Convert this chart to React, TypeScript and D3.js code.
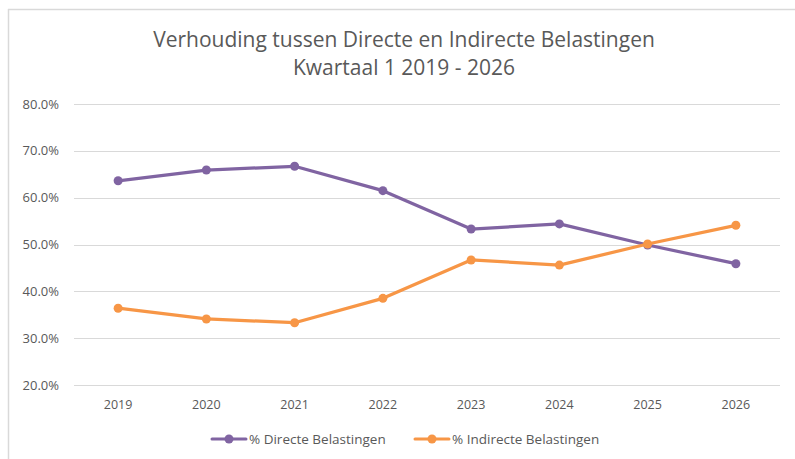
import React, { useEffect, useRef } from 'react';
import * as d3 from 'd3';

const years = ['2019', '2020', '2021', '2022', '2023', '2024', '2025', '2026'];
const directe = [63.6, 65.9, 66.7, 61.5, 53.3, 54.4, 49.9, 45.9];
const indirecte = [36.4, 34.1, 33.3, 38.5, 46.7, 45.6, 50.1, 54.1];
const yTicks = [20, 30, 40, 50, 60, 70, 80];
const seriesNames = ['% Directe Belastingen', '% Indirecte Belastingen'];
const seriesColors = ['#8064a2', '#f79646'];

const W = 795;
const H = 459;
const FONT = "'Open Sans', sans-serif";

const App: React.FC = () => {
  const svgRef = useRef<SVGSVGElement>(null);

  useEffect(() => {
    if (!svgRef.current) return;
    const svg = d3.select(svgRef.current);
    svg.selectAll('*').remove();

    const margin = { top: 104, right: 15, bottom: 74, left: 74 };
    const innerW = W - margin.left - margin.right;
    const innerH = H - margin.top - margin.bottom;

    svg.append('rect').attr('width', W).attr('height', H).attr('fill', '#fff');

    // chart frame (only top and left edges visible)
    svg.append('line')
      .attr('x1', 8).attr('x2', W).attr('y1', 9.5).attr('y2', 9.5)
      .attr('stroke', '#d9d9d9').attr('stroke-width', 1.5);
    svg.append('line')
      .attr('x1', 8.5).attr('x2', 8.5).attr('y1', 9).attr('y2', H)
      .attr('stroke', '#d9d9d9').attr('stroke-width', 1.5);

    // title
    const title = svg.append('text')
      .attr('text-anchor', 'middle')
      .attr('font-family', FONT)
      .attr('font-size', 21)
      .attr('fill', '#595959');
    title.append('tspan').attr('x', 404).attr('y', 47)
      .text('Verhouding tussen Directe en Indirecte Belastingen');
    title.append('tspan').attr('x', 404).attr('y', 75)
      .text('Kwartaal 1 2019 - 2026');

    const g = svg.append('g').attr('transform', `translate(${margin.left},${margin.top})`);

    const x = d3.scalePoint<string>().domain(years).range([0, innerW]).padding(0.5);
    const y = d3.scaleLinear().domain([20, 80]).range([innerH, 0]);

    // gridlines
    g.selectAll('line.grid')
      .data(yTicks)
      .enter()
      .append('line')
      .attr('class', 'grid')
      .attr('x1', 0).attr('x2', innerW)
      .attr('y1', d => Math.round(y(d)) + 0.5)
      .attr('y2', d => Math.round(y(d)) + 0.5)
      .attr('stroke', '#d9d9d9')
      .attr('stroke-width', 1);

    // y tick labels
    g.selectAll('text.ytick')
      .data(yTicks)
      .enter()
      .append('text')
      .attr('class', 'ytick')
      .attr('x', -15)
      .attr('y', d => y(d))
      .attr('dy', '0.35em')
      .attr('text-anchor', 'end')
      .attr('font-family', FONT)
      .attr('font-size', 13)
      .attr('fill', '#595959')
      .text(d => d3.format('.1f')(d) + '%');

    // x tick labels
    g.selectAll('text.xtick')
      .data(years)
      .enter()
      .append('text')
      .attr('class', 'xtick')
      .attr('x', d => x(d) as number)
      .attr('y', innerH + 24)
      .attr('text-anchor', 'middle')
      .attr('font-family', FONT)
      .attr('font-size', 12.5)
      .attr('fill', '#595959')
      .text(d => d);

    const line = d3.line<number>()
      .x((_, i) => x(years[i]) as number)
      .y(d => y(d));

    [directe, indirecte].forEach((vals, si) => {
      g.append('path')
        .datum(vals)
        .attr('fill', 'none')
        .attr('stroke', seriesColors[si])
        .attr('stroke-width', 3.25)
        .attr('stroke-linejoin', 'round')
        .attr('stroke-linecap', 'round')
        .attr('d', line);
      g.selectAll(`circle.s${si}`)
        .data(vals)
        .enter()
        .append('circle')
        .attr('class', `s${si}`)
        .attr('cx', (_, i) => x(years[i]) as number)
        .attr('cy', d => y(d))
        .attr('r', 4.5)
        .attr('fill', seriesColors[si]);
    });

    // legend
    const legendX = [212, 415];
    const ly = 439;
    seriesNames.forEach((name, i) => {
      const lg = svg.append('g').attr('transform', `translate(${legendX[i]},${ly})`);
      lg.append('line')
        .attr('x1', 0).attr('x2', 34).attr('y1', 0).attr('y2', 0)
        .attr('stroke', seriesColors[i]).attr('stroke-width', 3)
        .attr('stroke-linecap', 'round');
      lg.append('circle').attr('cx', 17).attr('cy', 0).attr('r', 4.5).attr('fill', seriesColors[i]);
      lg.append('text')
        .attr('x', 37).attr('y', 0).attr('dy', '0.35em')
        .attr('font-family', FONT).attr('font-size', 13.5).attr('fill', '#595959')
        .text(name);
    });
  }, []);

  return (
    <svg
      ref={svgRef}
      width={W}
      height={H}
      style={{ position: 'absolute', left: 0, top: 0, display: 'block' }}
    />
  );
};

export default App;
